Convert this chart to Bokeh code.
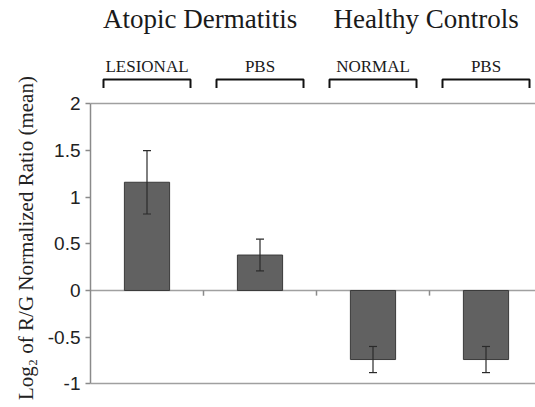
from bokeh.plotting import figure
from bokeh.models import Range1d, FixedTicker, Whisker, ColumnDataSource, TeeHead
from bokeh.core.properties import value
from bokeh.embed import file_html
from bokeh.resources import INLINE

# ---- data ----
categories = ["LESIONAL", "PBS", "NORMAL", "PBS"]
groups = ["Atopic Dermatitis", "Healthy Controls"]
means = [1.16, 0.38, -0.74, -0.74]
errors = [0.34, 0.17, 0.14, 0.14]
yticks = [-1, -0.5, 0, 0.5, 1, 1.5, 2]
ytick_labels = ["-1", "-0.5", "0", "0.5", "1", "1.5", "2"]
y_label = "Log\u2082 of R/G Normalized Ratio (mean)"

n = len(categories)
centers = [i + 0.5 for i in range(n)]

W, H = 535, 407
p = figure(width=W, height=H, output_backend="svg", toolbar_location=None,
           x_range=Range1d(0, 3.938), y_range=Range1d(-1.254, 3.108),
           min_border_left=90, min_border_right=0, min_border_top=0,
           min_border_bottom=0, x_axis_location=None)
p.outline_line_color = None
p.grid.visible = False
p.background_fill_color = "white"
p.border_fill_color = "white"

# y axis
ax = p.yaxis[0]
ax.bounds = (min(yticks), max(yticks))
ax.ticker = FixedTicker(ticks=yticks)
ax.major_label_overrides = {t: s for t, s in zip(yticks, ytick_labels)}
ax.minor_tick_line_color = None
ax.major_tick_out = 5
ax.major_tick_in = 0
ax.axis_line_color = "#8a8a8a"
ax.major_tick_line_color = "#8a8a8a"
ax.axis_line_width = 1.5
ax.major_tick_line_width = 1.5
ax.major_label_text_font = "Liberation Sans"
ax.major_label_text_font_size = "19px"
ax.major_label_text_color = "#222222"
ax.major_label_standoff = 5
# trailing no-break spaces shift the visible title down to sit as in the reference
ax.axis_label = y_label + "\u00a0" * 13
ax.axis_label_text_font = "Liberation Serif"
ax.axis_label_text_font_size = "21px"
ax.axis_label_text_font_style = "normal"
ax.axis_label_text_color = "#222222"
ax.axis_label_standoff = 7

# horizontal lines at top, zero and bottom
p.hspan(y=[max(yticks), 0, min(yticks)], line_color="#a0a0a0", line_width=1.5)

# category boundary ticks on the zero line
bounds_x = [float(i) for i in range(1, n)]
p.segment(x0=bounds_x, y0=[0] * len(bounds_x), x1=bounds_x,
          y1=[-0.055] * len(bounds_x), line_color="#8a8a8a", line_width=1.5)

# bars
src = ColumnDataSource(dict(x=centers, top=means,
                            upper=[m + e for m, e in zip(means, errors)],
                            lower=[m - e for m, e in zip(means, errors)]))
p.vbar(x="x", top="top", bottom=0, width=0.4, source=src,
       fill_color="#616161", line_color="#3a3a3a", line_width=1)

wh = Whisker(base="x", upper="upper", lower="lower", source=src, level="overlay",
             line_color="#2a2a2a", line_width=1.2,
             upper_head=TeeHead(size=8, line_color="#2a2a2a", line_width=1.2),
             lower_head=TeeHead(size=8, line_color="#2a2a2a", line_width=1.2))
p.add_layout(wh)

# group titles
gx = [sum(centers[2 * g:2 * g + 2]) / 2 - 0.03 for g in range(len(groups))]
p.text(x=gx, y=[2.91] * len(groups), text=groups,
       text_font=value("Liberation Serif"), text_font_size="27px",
       text_align="center", text_baseline="alphabetic", text_color="#1a1a1a")

# category labels
p.text(x=centers, y=[2.40] * n, text=categories,
       text_font=value("Liberation Serif"), text_font_size="17px",
       text_align="center", text_baseline="alphabetic", text_color="#1a1a1a")

# brackets
h = 0.385
yt, yb = 2.26, 2.17
p.multi_line(xs=[[c - h, c - h, c + h, c + h] for c in centers],
             ys=[[yb, yt, yt, yb] for _ in centers],
             line_color="#111111", line_width=2)

open("out.html", "w").write(file_html(p, INLINE))
